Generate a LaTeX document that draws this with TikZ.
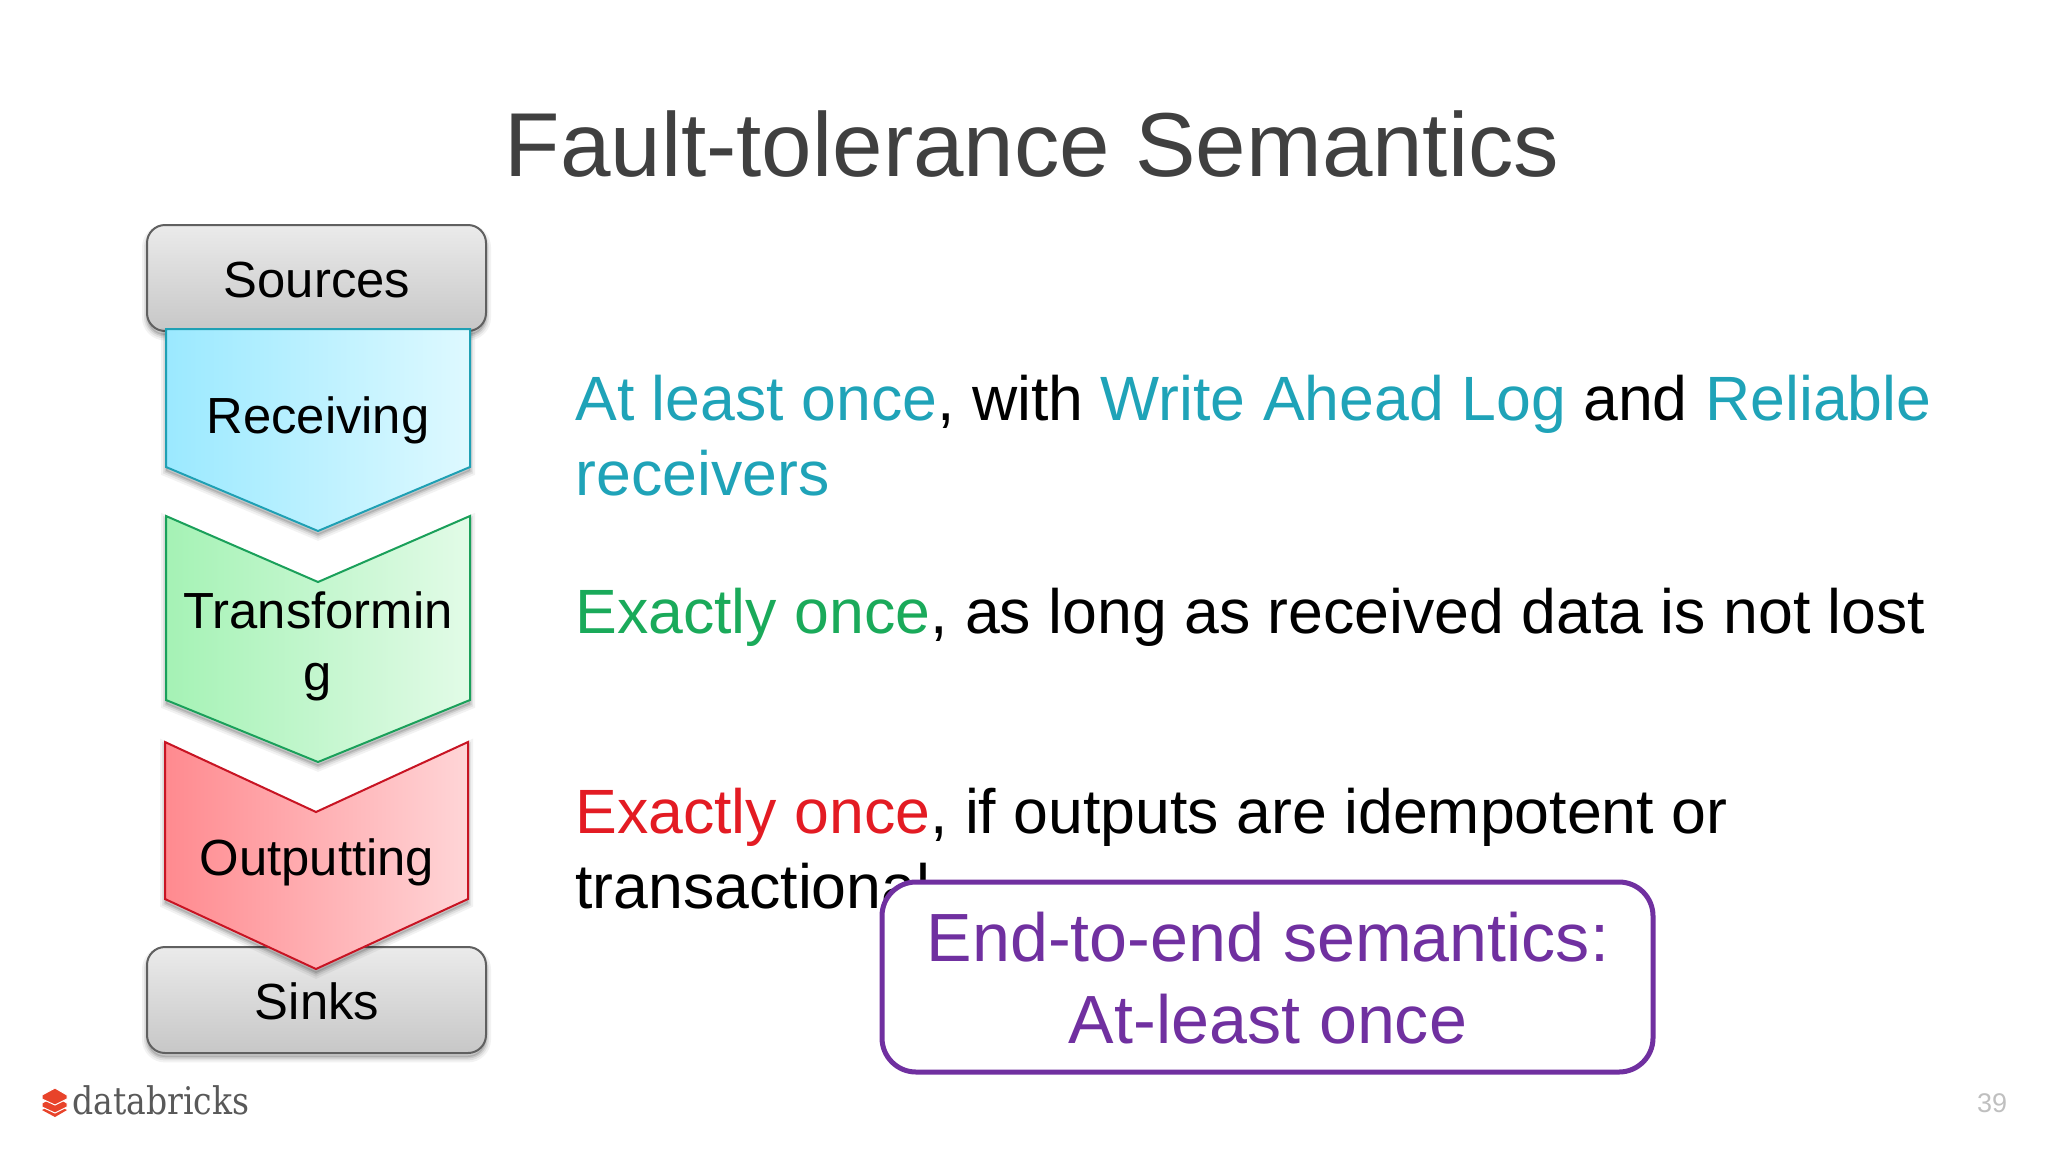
\documentclass[tikz,border=0pt]{standalone}
\usepackage{fontspec}
\usepackage{graphicx}
\setmainfont{Liberation Sans}
\newfontfamily\logofont{DejaVu Serif}
\definecolor{titlegray}{HTML}{404040}
\definecolor{tealtext}{HTML}{1FA3B8}
\definecolor{greentext}{HTML}{1AAA5A}
\definecolor{redtext}{HTML}{E31B23}
\definecolor{purpletext}{HTML}{7030A0}
\definecolor{boxedge}{HTML}{606060}
\definecolor{logored}{HTML}{E8432A}
\tikzset{
  softshade/.style={
    preaction={draw=black,opacity=.05,line width=5pt,transform canvas={yshift=-2.2pt}},
    preaction={draw=black,opacity=.07,line width=3pt,transform canvas={yshift=-2.2pt}},
    preaction={draw=black,opacity=.10,line width=1.5pt,transform canvas={yshift=-2pt}},
    preaction={fill=black,opacity=.12,transform canvas={yshift=-2pt}}},
  endbox/.style={softshade,draw=boxedge,line width=1pt,rounded corners=9pt,top color=black!8,bottom color=black!22},
  stagebox/.style={softshade,line width=1pt},
  stagelabel/.style={font=\fontsize{25.4}{31}\selectfont,anchor=base,align=center},
  bodytext/.style={font=\fontsize{31.3}{37.5}\selectfont,anchor=base west,align=left,inner sep=0pt},
}
\begin{document}
\begin{tikzpicture}[x=0.5pt,y=-0.5pt]
\useasboundingbox (0,0) rectangle (2048,1152);
\node[font=\fontsize{45.4}{54}\selectfont,text=titlegray,anchor=base] (title) at (1032,176) {Fault-tolerance Semantics};

% sources and sinks
\path[endbox] (147,225) rectangle (486,331);
\path[endbox] (147,947) rectangle (486,1053);
\node[stagelabel] (sources) at (317,297) {Sources};
\node[stagelabel] (sinks) at (317,1019) {Sinks};

% stages
\path[stagebox,draw={rgb,255:red,31;green,160;blue,180},left color={rgb,255:red,155;green,233;blue,255},right color={rgb,255:red,222;green,249;blue,255}]
  (166,329) -- (470,329) -- (470,467) -- (318,531) -- (166,467) -- cycle;
\path[stagebox,draw={rgb,255:red,26;green,160;blue,90},left color={rgb,255:red,165;green,242;blue,181},right color={rgb,255:red,226;green,251;blue,231}]
  (166,516) -- (318,582) -- (470,516) -- (470,700) -- (318,762) -- (166,700) -- cycle;
\path[stagebox,draw={rgb,255:red,200;green,20;blue,35},left color={rgb,255:red,255;green,138;blue,143},right color={rgb,255:red,255;green,213;blue,215}]
  (165,742) -- (316,812) -- (468,742) -- (468,899) -- (316,969) -- (165,899) -- cycle;
\node[stagelabel] (receiving) at (318,433) {Receiving};
\node[stagelabel] (transforming) at (318,690) {Transformin\\g};
\node[stagelabel] (outputting) at (317,875) {Outputting};

% text
\node[bodytext] (first) at (575,495) {\textcolor{tealtext}{At least once}, with \textcolor{tealtext}{Write Ahead Log} and \textcolor{tealtext}{Reliable}\\\textcolor{tealtext}{receivers}};
\node[bodytext] (second) at (575,633) {\textcolor{greentext}{Exactly once}, as long as received data is not lost};
\node[bodytext] (third) at (575,908) {\textcolor{redtext}{Exactly once}, if outputs are idempotent or\\transactional};

% callout
\path[draw=purpletext,line width=2.5pt,fill=white,rounded corners=17pt] (882,882) rectangle (1653,1072);
\node[font=\fontsize{34.1}{41}\selectfont,text=purpletext,anchor=base,align=center] (callout) at (1268,1043) {End-to-end semantics:\\At-least once};

% logo
\fill[logored] (42,1110) -- (55,1104) -- (67,1110) -- (55,1117) -- cycle;
\fill[logored,draw=white,line width=.5pt] (42,1103) -- (55,1096) -- (67,1103) -- (67,1107) -- (55,1113) -- (42,1107) -- cycle;
\fill[logored,draw=white,line width=.5pt] (42,1095) -- (55,1088) -- (67,1095) -- (67,1099) -- (55,1105) -- (42,1099) -- cycle;
\node[font=\logofont\fontsize{19}{22}\selectfont,text=black!65,anchor=base west,inner sep=0pt] (logo) at (72,1114) {\scalebox{.87}[1]{databricks}};
\node[font=\fontsize{13.5}{16}\selectfont,text=black!25,anchor=base] (pagenum) at (1992,1112) {39};
\end{tikzpicture}
\end{document}
